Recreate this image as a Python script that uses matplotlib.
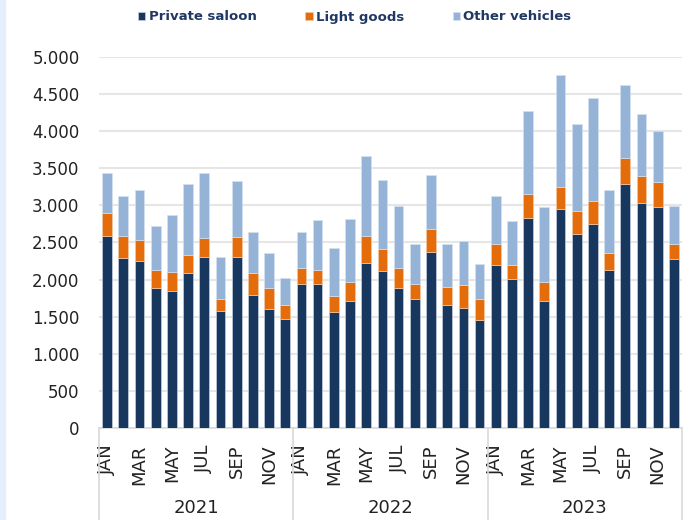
import matplotlib.pyplot as plt
import matplotlib.transforms as mtransforms
from matplotlib.patches import Rectangle
from matplotlib.ticker import FuncFormatter
import numpy as np

years = ["2021", "2022", "2023"]
months = ["JAN", "FEB", "MAR", "APR", "MAY", "JUN",
          "JUL", "AUG", "SEP", "OCT", "NOV", "DEC"]

# cumulative readings were converted to per-series values
private_saloon = [2594, 2289, 2244, 1884, 1849, 2087, 2311, 1575, 2302, 1790, 1601, 1466,
                  1947, 1938, 1557, 1718, 2217, 2113, 1884, 1745, 2374, 1655, 1615, 1462,
                  2203, 2005, 2828, 1718, 2949, 2612, 2747, 2136, 3295, 3026, 2985, 2271]
light_goods = [306, 292, 283, 243, 247, 247, 247, 157, 274, 297, 292, 185,
               216, 198, 224, 256, 364, 293, 270, 189, 310, 252, 315, 274,
               274, 189, 323, 247, 296, 310, 306, 216, 341, 364, 324, 206]
other_vehicles = [534, 543, 687, 598, 768, 948, 885, 566, 755, 561, 459, 368,
                  472, 669, 651, 836, 1091, 939, 835, 548, 732, 570, 593, 472,
                  652, 598, 1124, 1020, 1506, 1177, 1392, 862, 980, 839, 696, 518]

navy = "#17375E"
orange = "#E46C0A"
light_blue = "#95B3D7"
text_col = "#1F3864"
grid_col = "#E6E6E6"
sep_col = "#D9D9D9"

fig = plt.figure(figsize=(6.97, 5.2), dpi=100)
ax = fig.add_axes([99 / 697, 1 - 428 / 520, 583 / 697, 371 / 520])

x = np.arange(len(private_saloon))
ps = np.array(private_saloon)
lg = np.array(light_goods)
ov = np.array(other_vehicles)

w = 0.6
ax.bar(x, ps, w, color=navy, edgecolor="#C5D0E0", linewidth=0.5, label="Private saloon", zorder=3)
ax.bar(x, lg, w, bottom=ps, color=orange, edgecolor="#F2C7A0", linewidth=0.5, label="Light goods", zorder=3)
ax.bar(x, ov, w, bottom=ps + lg, color=light_blue, edgecolor="#D5E1EF", linewidth=0.5, label="Other vehicles", zorder=3)

ax.set_xlim(-0.5, len(x) - 0.5)
ax.set_ylim(0, 5000)
ax.set_yticks(np.arange(0, 5001, 500))
ax.yaxis.set_major_formatter(FuncFormatter(lambda v, p: f"{int(v):,}".replace(",", ".")))
ax.grid(axis="y", color=grid_col, linewidth=1.5, zorder=0)
ax.tick_params(axis="y", length=0, labelsize=12, pad=14, labelcolor="#222222")

ticks = x[::2]
ax.set_xticks(ticks)
ax.set_xticklabels([months[i % 12] for i in ticks], rotation=90, fontsize=13, color="#222222")
ax.tick_params(axis="x", length=0, pad=12)

for s in ["top", "right", "left"]:
    ax.spines[s].set_visible(False)
ax.spines["bottom"].set_color(sep_col)
ax.spines["bottom"].set_linewidth(1.2)

# year groups with separators
trans = mtransforms.blended_transform_factory(ax.transData, ax.transAxes)
for i in range(len(years) + 1):
    ax.plot([i * 12 - 0.5, i * 12 - 0.5], [0, -0.26], transform=trans, color=sep_col,
            linewidth=1.2, clip_on=False)
for i, yr in enumerate(years):
    ax.text(i * 12 + 5.5, -0.215, yr, transform=trans, ha="center", va="center",
            fontsize=13, color="#222222")

fig.legend(loc="center", bbox_to_anchor=(0.509, 1 - 17 / 520), ncol=3, frameon=False,
           handlelength=0.55, handleheight=0.55, handletextpad=0.25, columnspacing=3.7,
           prop={"weight": "bold", "size": 9.5}, labelcolor=text_col)

# light strip on the left edge
fig.patches.append(Rectangle((0, 0), 5 / 697, 1, transform=fig.transFigure,
                             color="#E3F0FB", zorder=0))

fig.savefig("out.png", dpi=100)
